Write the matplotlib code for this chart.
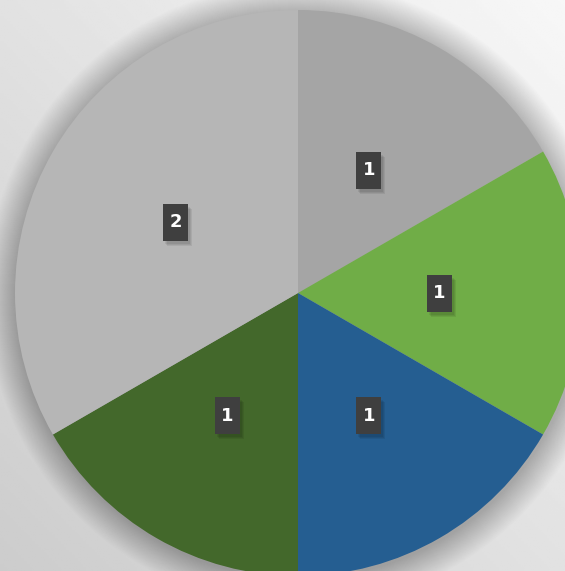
import numpy as np
import matplotlib
matplotlib.use('Agg')
import matplotlib.pyplot as plt
from matplotlib.patches import Circle, Rectangle

# slice values, clockwise from 12 o'clock
values = [1, 1, 1, 1, 2]
colors = ['#A5A5A5', '#70AD47', '#255E91', '#43682B', '#B6B6B6']

W, H = 565, 571
cx, cy, R = 298, H - 293, 283

fig = plt.figure(figsize=(W / 100, H / 100), dpi=100)
ax = fig.add_axes([0, 0, 1, 1])

# background gradient: light top-right, darker bottom-left
xx, yy = np.meshgrid(np.linspace(0, 1, 200), np.linspace(0, 1, 200))
g = 0.5 * xx + 0.5 * yy
bg = 0.80 + 0.17 * g
ax.imshow(bg, cmap='gray', vmin=0, vmax=1, extent=[0, W, 0, H],
          origin='lower', aspect='auto', zorder=0)

# soft shadow around the pie
for k in range(30, 0, -1):
    ax.add_patch(Circle((cx + 1, cy - 2), R + k, color='black',
                        alpha=0.006, lw=0, zorder=1))

wedges, texts = ax.pie(values, colors=colors, startangle=90, counterclock=False,
                       center=(cx, cy), radius=R, labels=[str(v) for v in values],
                       labeldistance=0.5, frame=True,
                       wedgeprops=dict(linewidth=0, zorder=2),
                       textprops=dict(color='white', fontsize=13, fontweight='bold',
                                      ha='center', va='center', zorder=6))
ax.set_xlim(0, W)
ax.set_ylim(0, H)
ax.set_aspect('auto')
ax.axis('off')

bw, bh = 25, 37
for t in texts:
    x, y = t.get_position()
    for d in (1, 2, 3):
        ax.add_patch(Rectangle((x - bw / 2 + d + 1, y - bh / 2 - d - 2), bw, bh,
                               color='black', alpha=0.07, lw=0, zorder=4))
    ax.add_patch(Rectangle((x - bw / 2, y - bh / 2), bw, bh,
                           color='#3F3F3F', lw=0, zorder=5))

fig.savefig('out.png', dpi=100)
